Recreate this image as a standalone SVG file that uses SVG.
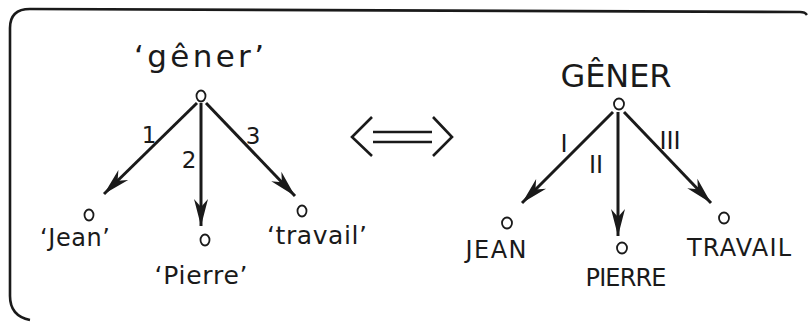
<svg xmlns="http://www.w3.org/2000/svg" width="808" height="322" viewBox="0 0 808 322">
<style>
  .t { font-family: "DejaVu Sans", "Open Sans", sans-serif; fill: #1a1a1a; }
  .edge { stroke: #1a1a1a; stroke-width: 3; fill: none; }
  .node { stroke: #1a1a1a; stroke-width: 1.8; fill: none; }
  .frame { stroke: #1a1a1a; stroke-width: 2.6; fill: none; }
</style>
<defs>
  <marker id="ah" markerUnits="userSpaceOnUse" markerWidth="34" markerHeight="20" viewBox="-30 -9 34 18" refX="0" refY="0" orient="auto">
    <path d="M0,0 L-27,-7 L-19,0 L-27,7 Z" fill="#1a1a1a"/>
  </marker>
</defs>
<path class="frame" d="M30 320 Q10 316 10 296 L10 28 Q10 9 30 9 L800 12 Q805 12 807 15"/>

<g id="connectors">
  <line class="edge" x1="197" y1="103" x2="104" y2="194" marker-end="url(#ah)"/>
  <line class="edge" x1="201" y1="103" x2="201" y2="226" marker-end="url(#ah)"/>
  <line class="edge" x1="206" y1="103" x2="295" y2="196" marker-end="url(#ah)"/>
  <line class="edge" x1="613" y1="112" x2="522" y2="203" marker-end="url(#ah)"/>
  <line class="edge" x1="618" y1="112" x2="618" y2="236" marker-end="url(#ah)"/>
  <line class="edge" x1="624" y1="112" x2="711" y2="203" marker-end="url(#ah)"/>
  <text class="t" x="149" y="143" font-size="23" text-anchor="middle">1</text>
  <text class="t" x="189" y="168" font-size="23" text-anchor="middle">2</text>
  <text class="t" x="253" y="144" font-size="23" text-anchor="middle">3</text>
  <text class="t" x="564" y="152" font-size="24" text-anchor="middle">I</text>
  <text class="t" x="596" y="173" font-size="24" text-anchor="middle">II</text>
  <text class="t" x="670" y="149" font-size="24" text-anchor="middle">III</text>
</g>

<g id="equiv">
  <path d="M372 117 L352 137 L372 156" stroke="#1a1a1a" stroke-width="2.6" fill="none"/>
  <line x1="373" y1="132" x2="432" y2="132" stroke="#1a1a1a" stroke-width="2.6"/>
  <line x1="373" y1="142" x2="432" y2="142" stroke="#1a1a1a" stroke-width="2.6"/>
  <path d="M433 117 L452 137 L433 156" stroke="#1a1a1a" stroke-width="2.6" fill="none"/>
</g>

<g id="gener">
  <text class="t" x="199" y="67" font-size="31" text-anchor="middle" textLength="130" lengthAdjust="spacing">‘gêner’</text>
  <ellipse class="node" cx="201" cy="96" rx="4.5" ry="5.5"/>
</g>
<g id="jean">
  <ellipse class="node" cx="89" cy="215" rx="4.5" ry="5.5"/>
  <text class="t" x="75" y="246" font-size="24" text-anchor="middle" textLength="70" lengthAdjust="spacing">‘Jean’</text>
</g>
<g id="pierre">
  <ellipse class="node" cx="205" cy="240" rx="4.5" ry="5.5"/>
  <text class="t" x="201" y="284" font-size="25" text-anchor="middle" textLength="93" lengthAdjust="spacing">‘Pierre’</text>
</g>
<g id="travail">
  <ellipse class="node" cx="302" cy="211" rx="4.5" ry="5.5"/>
  <text class="t" x="317" y="244" font-size="25" text-anchor="middle" textLength="100" lengthAdjust="spacing">‘travail’</text>
</g>

<g id="GENER">
  <text class="t" x="616" y="87" font-size="32" text-anchor="middle" textLength="111" lengthAdjust="spacing">GÊNER</text>
  <ellipse class="node" cx="619" cy="104" rx="5" ry="5.5"/>
</g>
<g id="JEAN">
  <ellipse class="node" cx="507" cy="223" rx="5" ry="5.5"/>
  <text class="t" x="496" y="258" font-size="24" text-anchor="middle" textLength="61" lengthAdjust="spacing">JEAN</text>
</g>
<g id="PIERRE">
  <ellipse class="node" cx="622" cy="248" rx="5" ry="5.5"/>
  <text class="t" x="626" y="286" font-size="24" text-anchor="middle" textLength="81" lengthAdjust="spacing">PIERRE</text>
</g>
<g id="TRAVAIL">
  <ellipse class="node" cx="724" cy="218" rx="5" ry="5.5"/>
  <text class="t" x="739" y="256" font-size="24" text-anchor="middle" textLength="104" lengthAdjust="spacing">TRAVAIL</text>
</g>
</svg>
